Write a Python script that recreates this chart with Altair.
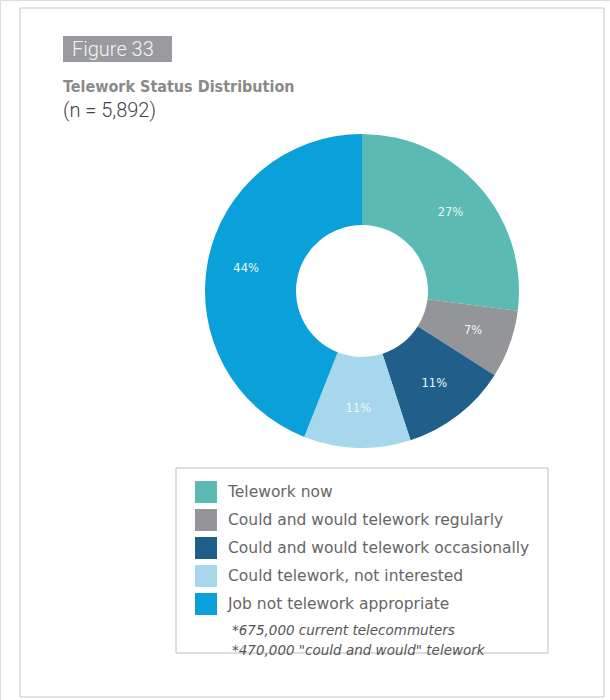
import altair as alt
import pandas as pd

# Telework status shares (percent), clockwise from 12 o'clock
categories = [
    "Telework now",
    "Could and would telework regularly",
    "Could and would telework occasionally",
    "Could telework, not interested",
    "Job not telework appropriate",
]
shares = [27, 7, 11, 11, 44]
colors = ["#5bbab4", "#939598", "#1f5f8a", "#a7d7ec", "#0aa0d9"]

notes = ["*675,000 current telecommuters", '*470,000 "could and would" telework']

W, H = 610, 700
CX, CY = 362, 291

df = pd.DataFrame({
    "category": categories,
    "share": shares,
    "order": list(range(len(categories))),
    "label": [f"{v}%" for v in shares],
})
one = pd.DataFrame({"k": [0]})

frame = alt.Chart(one).mark_rect(fill="white", stroke="#c9c9c9", strokeWidth=1).encode(
    x=alt.value(20), x2=alt.value(604), y=alt.value(8), y2=alt.value(697)
)

fig_box = alt.Chart(one).mark_rect(fill="#9a9b9e").encode(
    x=alt.value(63), x2=alt.value(172), y=alt.value(36), y2=alt.value(62)
)
fig_text = alt.Chart(one).mark_text(
    text="Figure 33", font="Roboto", fontWeight=300, fontSize=20, color="#f4f4f4",
    align="left", baseline="middle"
).encode(x=alt.value(72), y=alt.value(50))

title = alt.Chart(one).mark_text(
    text="Telework Status Distribution", font="Liberation Sans Narrow, DejaVu Sans Condensed, Roboto",
    fontWeight="bold", fontSize=16, color="#8a8a8a", align="left", baseline="middle"
).encode(x=alt.value(63), y=alt.value(87))
subtitle = alt.Chart(one).mark_text(
    text="(n = 5,892)", font="Roboto", fontWeight=300, fontSize=20, color="#444",
    align="left", baseline="middle"
).encode(x=alt.value(63), y=alt.value(111))

base = alt.Chart(df).encode(
    theta=alt.Theta("share:Q", stack=True),
    order=alt.Order("order:Q"),
    x=alt.value(CX),
    y=alt.value(CY),
)

donut = base.mark_arc(outerRadius=157, innerRadius=66).encode(
    color=alt.Color(
        "category:N",
        scale=alt.Scale(domain=categories, range=colors),
        legend=alt.Legend(
            orient="none", legendX=195, legendY=481, title=None,
            symbolType="square", symbolSize=484, symbolStrokeWidth=0,
            labelFont="DejaVu Sans", labelFontSize=15.5, labelColor="#666",
            labelOffset=11, rowPadding=6, labelLimit=400,
        ),
    )
)

pct = base.mark_text(
    radius=118, font="DejaVu Sans", fontSize=11.5, color="#eef6f6", baseline="middle"
).encode(text="label:N")

legend_box = alt.Chart(one).mark_rect(fill="transparent", stroke="#bdbdbd", strokeWidth=1).encode(
    x=alt.value(176), x2=alt.value(548), y=alt.value(468), y2=alt.value(653)
)

notes_df = pd.DataFrame({"note": notes, "row": [0, 1]})
note_text = alt.Chart(notes_df).mark_text(
    font="DejaVu Sans", fontStyle="italic", fontSize=13.5, color="#555",
    align="left", baseline="middle"
).encode(
    text="note:N",
    x=alt.value(232),
    y=alt.Y("row:Q", scale=alt.Scale(domain=[0, 1], range=[631, 651]), axis=None),
)

chart = alt.layer(
    frame, fig_box, fig_text, title, subtitle, donut, pct, legend_box, note_text
).properties(
    width=W, height=H, autosize=alt.AutoSizeParams(type="none"), padding=0
).configure_view(stroke=None).configure(background="white")

chart.save("out.html", embed_options={"renderer": "svg", "actions": False})
